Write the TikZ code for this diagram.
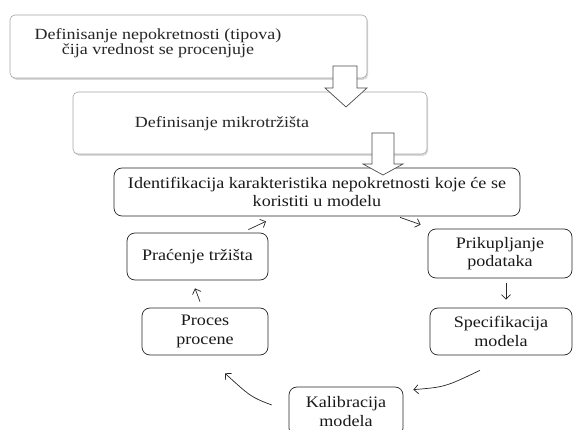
\documentclass[tikz,border=0pt]{standalone}
\usepackage{fontspec}
\setmainfont{Liberation Serif}
\newfontfamily\widefont[FakeStretch=1.13]{Liberation Serif}
\newfontfamily\topfont[FakeStretch=1.16]{Liberation Serif}
\usetikzlibrary{arrows.meta,shadows,calc}
\begin{document}
\begin{tikzpicture}[x=1pt,y=-1pt,
  softbox/.style={draw=gray!70, line width=0.6pt, rounded corners=5pt, fill=white, inner sep=0pt,
    drop shadow={shadow xshift=1.2pt,shadow yshift=-1.8pt,opacity=0.3}},
  toptext/.style={align=center, inner sep=0pt, text=black!85, font=\topfont\fontsize{15.5}{15.5}\selectfont},
  stepbox/.style={draw=black!85, line width=0.7pt, rounded corners=8pt, fill=white, inner sep=0pt,
    align=center, text=black!90, font=\widefont\fontsize{16}{18.5}\selectfont},
  blockarrow/.style={draw=black!70, line width=0.7pt, fill=white, line join=miter},
  flow/.style={draw=black!85, line width=0.7pt, -{Straight Barb[length=4.5pt,width=9pt]}}]
\clip (0,0) rectangle (573,430);
% top boxes
\node[softbox, minimum width=357pt, minimum height=63pt] (b1) at (188.5,46.5) {};
\node[toptext] (b1t) at (158,43) {Definisanje nepokretnosti (tipova)\\čija vrednost se procenjuje};
\node[softbox, minimum width=354pt, minimum height=62pt] (b2) at (250,123) {};
\node[toptext] (b2t) at (222,124) {Definisanje mikrotržišta};
% main box
\node[stepbox, minimum width=406pt, minimum height=48pt] (id) at (317,192)
  {Identifikacija karakteristika nepokretnosti koje će se\\koristiti u modelu};
% cycle boxes
\node[stepbox, minimum width=141pt, minimum height=47pt] (pr) at (197.5,256.5) {Praćenje tržišta};
\node[stepbox, minimum width=144pt, minimum height=49pt] (pk) at (500,253.5) {Prikupljanje\\podataka};
\node[stepbox, minimum width=126pt, minimum height=47pt] (pc) at (205,331.5) {Proces\\procene};
\node[stepbox, minimum width=142pt, minimum height=47pt] (sp) at (501,331.5) {Specifikacija\\modela};
\node[stepbox, minimum width=114pt, minimum height=49pt] (ka) at (346,411.5) {Kalibracija\\modela};
% block arrows
\coordinate (ba1) at (345,66);
\draw[blockarrow] (ba1) ++(-12,0) -- ++(24,0) -- ++(0,22) -- ++(10,0) -- ++(-21,19) -- ++(-21,-19) -- ++(8,0) -- cycle;
\coordinate (ba2) at (383,133);
\draw[blockarrow] (ba2) ++(-11,0) -- ++(22,0) -- ++(0,31) -- ++(9,0) -- ++(-20,11) -- ++(-20,-11) -- ++(9,0) -- cycle;
% cycle connectors
\draw[flow] ($(pr.north east)+(-20,-3)$) -- ($(id.south)+(-51,5)$);
\draw[flow] ($(id.south)+(83,1)$) -- ($(pk.north west)+(-7,-4)$);
\draw[flow] ($(pk.south)+(6,5)$) -- ($(sp.north)+(5,-8)$);
\draw[flow] ($(sp.south)+(-21,15)$) .. controls (445,387) .. ($(ka.north east)+(10,3)$);
\draw[flow] ($(ka.west)+(-17,-6.5)$) .. controls (251,397) .. ($(pc.south)+(20,18)$);
\draw[flow] ($(pc.north)+(-5,-6)$) -- ($(pr.south)+(-2.5,8)$);
\end{tikzpicture}
\end{document}
